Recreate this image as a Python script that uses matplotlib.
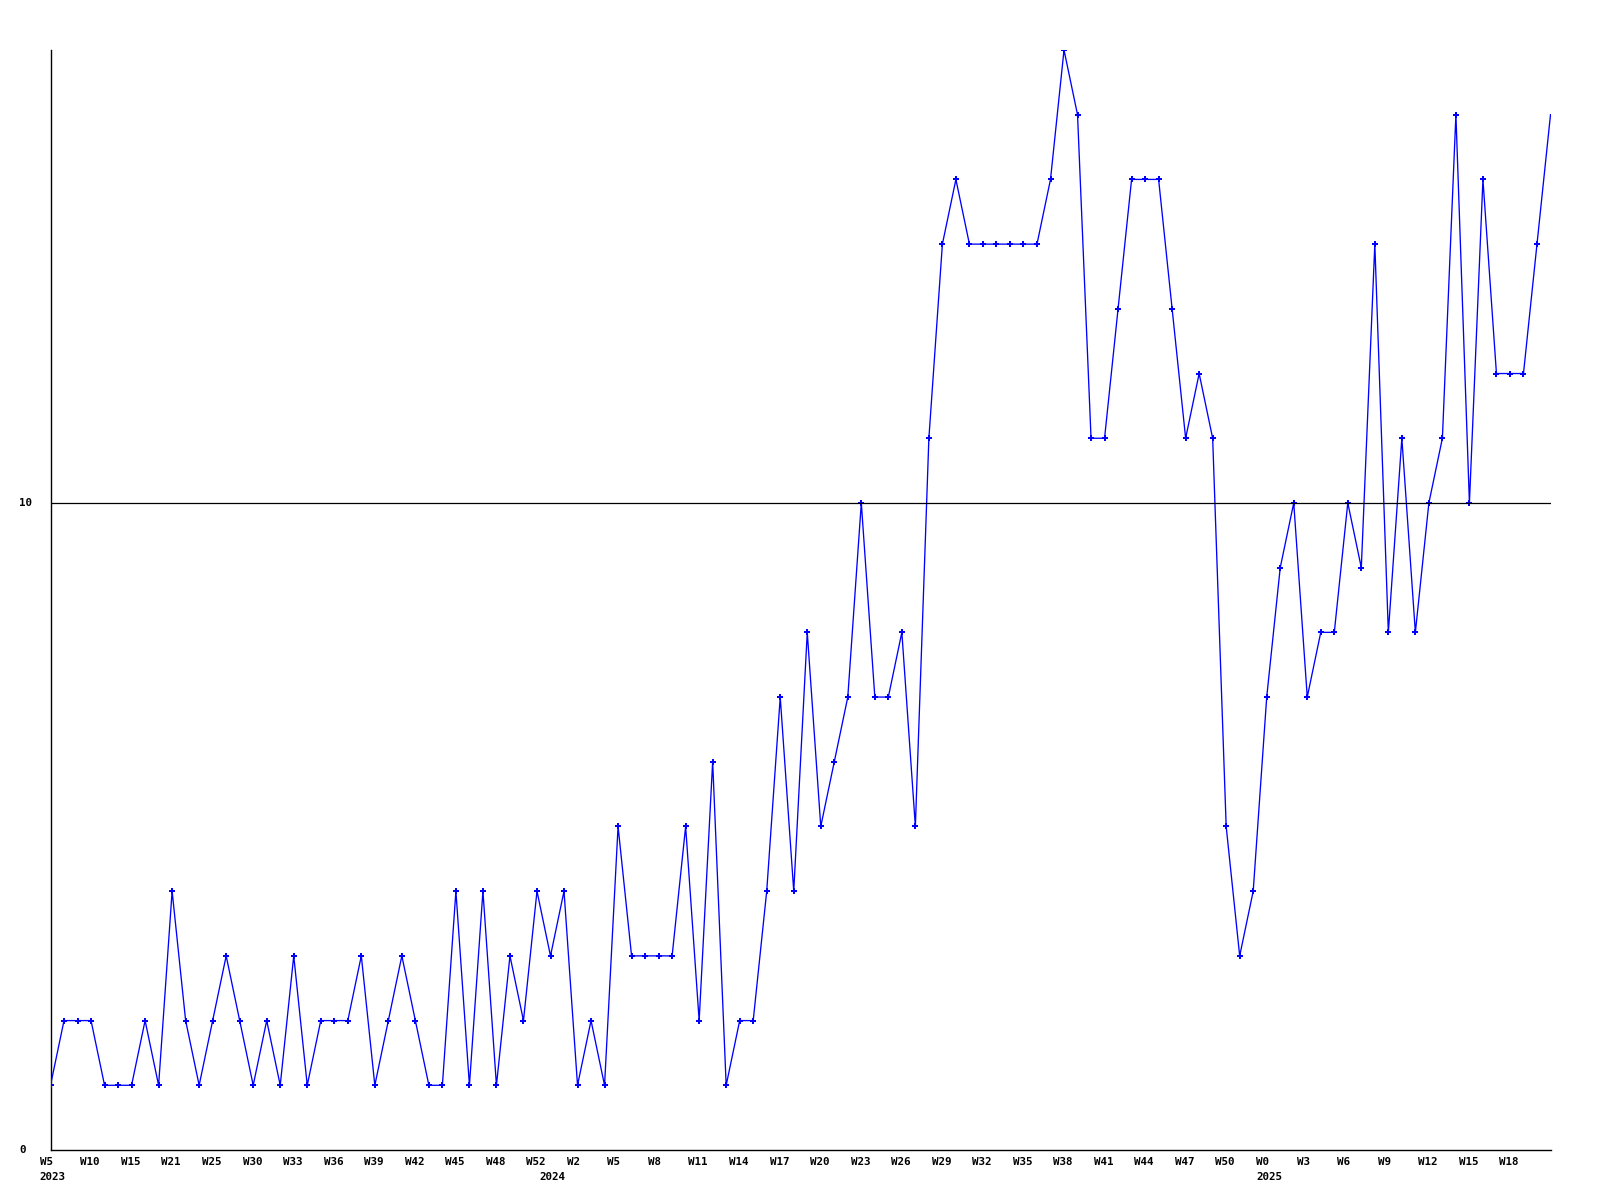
import matplotlib
matplotlib.use("Agg")
import matplotlib.pyplot as plt
import matplotlib.transforms as mtransforms

values = [1, 2, 2, 2, 1, 1, 1, 2, 1, 4,
          2, 1, 2, 3, 2, 1, 2, 1, 3, 1,
          2, 2, 2, 3, 1, 2, 3, 2, 1, 1,
          4, 1, 4, 1, 3, 2, 4, 3, 4, 1,
          2, 1, 5, 3, 3, 3, 3, 5, 2, 6,
          1, 2, 2, 4, 7, 4, 8, 5, 6, 7,
          10, 7, 7, 8, 5, 11, 14, 15, 14, 14,
          14, 14, 14, 14, 15, 17, 16, 11, 11, 13,
          15, 15, 15, 13, 11, 12, 11, 5, 3, 4,
          7, 9, 10, 7, 8, 8, 10, 9, 14, 8,
          11, 8, 10, 11, 16, 10, 15, 12, 12, 12,
          14, 16]

# one label every third week (point index 0, 3, 6, ...)
week_labels = ["W5", "W10", "W15", "W21", "W25", "W30", "W33", "W36", "W39",
               "W42", "W45", "W48", "W52", "W2", "W5", "W8", "W11", "W14",
               "W17", "W20", "W23", "W26", "W29", "W32", "W35", "W38", "W41",
               "W44", "W47", "W50", "W0", "W3", "W6", "W9", "W12", "W15", "W18"]
year_labels = ["2023", "2024", "2025"]
year_index = [0, 37, 90]
y_ticks = [0, 10]

W, H = 1600, 1200
fig = plt.figure(figsize=(16, 12), dpi=100)
L, R, T, B = 50.5, 1550.5, 50, 1150
ax = fig.add_axes([L / W, 1 - B / H, (R - L) / W, (B - T) / H])

x = list(range(len(values)))
ax.plot(x, values, color="#0000ff", lw=0.95, zorder=3,
        marker="P", markersize=4.0, markeredgewidth=0,
        markevery=list(range(len(values) - 1)))
ax.axhline(10, color="black", lw=0.9, zorder=4)

ax.set_xlim(0, len(values) - 1)
ax.set_ylim(0, 17)
for s in ["top", "right"]:
    ax.spines[s].set_visible(False)
for s in ["left", "bottom"]:
    ax.spines[s].set_linewidth(1.0)
    ax.spines[s].set_color("black")
ax.set_xticks([])
ax.set_yticks([])

font = dict(family="DejaVu Sans Mono", fontsize=7.8, fontweight="bold", color="black")

shift = mtransforms.ScaledTranslation(-10.7 / 100, 0, fig.dpi_scale_trans)
tr_x = mtransforms.blended_transform_factory(ax.transData, ax.transAxes) + shift
tick_idx = list(range(0, len(values), 3))
for lab, p in zip(week_labels, tick_idx):
    ax.text(p, -12 / (B - T), lab, transform=tr_x, ha="left", va="center",
            clip_on=False, **font)
for lab, p in zip(year_labels, year_index):
    ax.text(p, -27.5 / (B - T), lab, transform=tr_x, ha="left", va="center",
            clip_on=False, **font)

tr_y = mtransforms.blended_transform_factory(ax.transAxes, ax.transData)
for v in y_ticks:
    ax.text((19.5 - L) / (R - L), v, str(v), transform=tr_y, ha="left", va="center",
            clip_on=False, **font)

fig.savefig("out.png", dpi=100, facecolor="white")
